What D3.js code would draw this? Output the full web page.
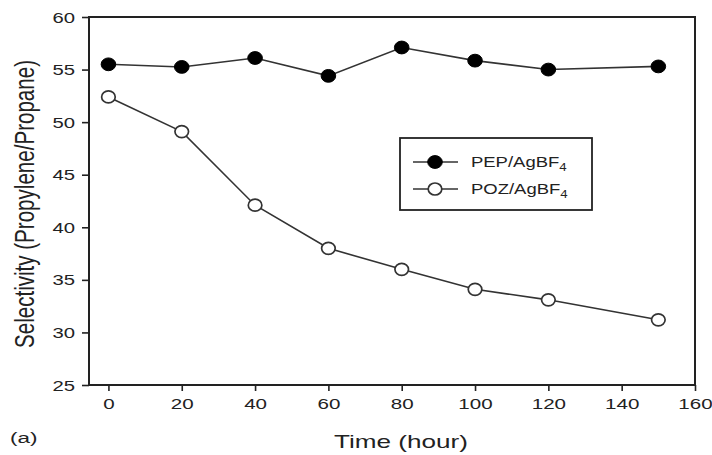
<!DOCTYPE html>
<html>
<head>
<meta charset="utf-8">
<script src="https://cdn.jsdelivr.net/npm/d3@7"></script>
<style>
  html, body { margin: 0; padding: 0; background: #fff; }
  svg { display: block; font-family: "Liberation Sans", Arial, sans-serif; }
</style>
</head>
<body>
<svg id="chart" width="712" height="455"></svg>
<script>
// ---- data ----
const times = [0, 20, 40, 60, 80, 100, 120, 150];
const pepValues = [55.5, 55.25, 56.1, 54.4, 57.1, 55.85, 55.0, 55.3];
const pozValues = [52.4, 49.1, 42.1, 38.0, 36.0, 34.1, 33.1, 31.2];
const xTicks = [0, 20, 40, 60, 80, 100, 120, 140, 160];
const yTicks = [25, 30, 35, 40, 45, 50, 55, 60];
const seriesNames = ["PEP/AgBF", "POZ/AgBF"];

const SX = 1.45; // horizontal stretch of the original figure
const ink = "#222";

const svg = d3.select("#chart");
const x = d3.scaleLinear().domain([-5.3, 160]).range([89, 695]);
const y = d3.scaleLinear().domain([25, 60]).range([385, 17]);

// x axis
const xAxis = svg.append("g")
  .attr("transform", `translate(0,${y(25)})`)
  .call(d3.axisBottom(x).tickValues(xTicks).tickSize(6).tickSizeOuter(0));
xAxis.select(".domain").remove();
xAxis.selectAll("line").attr("stroke", ink).attr("stroke-width", 1.6);
xAxis.selectAll("text")
  .attr("fill", ink).attr("font-size", 14.5)
  .attr("y", 19).attr("dy", "0.36em")
  .attr("transform", `scale(1.42,1)`);

// y axis
const yAxis = svg.append("g")
  .attr("transform", `translate(${x(-5.3)},0)`)
  .call(d3.axisLeft(y).tickValues(yTicks).tickSize(7).tickSizeOuter(0));
yAxis.select(".domain").remove();
yAxis.selectAll("line").attr("stroke", ink).attr("stroke-width", 1.6);
yAxis.selectAll("text")
  .attr("fill", ink).attr("font-size", 14)
  .attr("x", -14 / SX).attr("dy", "0.36em")
  .attr("transform", `scale(${SX},1)`);

// frame
svg.append("rect")
  .attr("x", x(-5.3)).attr("y", y(60))
  .attr("width", x(160) - x(-5.3)).attr("height", y(25) - y(60))
  .attr("fill", "none").attr("stroke", ink).attr("stroke-width", 2);

const line = d3.line().x((d, i) => x(times[i])).y(d => y(d));

function drawSeries(vals, filled) {
  svg.append("path").datum(vals)
    .attr("d", line).attr("fill", "none")
    .attr("stroke", "#333").attr("stroke-width", 1.6);
  svg.append("g").selectAll("ellipse").data(vals).join("ellipse")
    .attr("cx", (d, i) => x(times[i])).attr("cy", d => y(d))
    .attr("rx", filled ? 7.3 : 6.8).attr("ry", filled ? 6.4 : 6)
    .attr("fill", filled ? "#000" : "#fff")
    .attr("stroke", filled ? "#000" : "#333")
    .attr("stroke-width", filled ? 1 : 1.7);
}
drawSeries(pepValues, true);
drawSeries(pozValues, false);

// legend
const lg = svg.append("g");
lg.append("rect").attr("x", 400).attr("y", 138).attr("width", 192).attr("height", 72)
  .attr("fill", "#fff").attr("stroke", ink).attr("stroke-width", 1.8);
seriesNames.forEach((name, i) => {
  const ly = 162 + i * 27;
  lg.append("line").attr("x1", 413).attr("x2", 458).attr("y1", ly).attr("y2", ly)
    .attr("stroke", "#333").attr("stroke-width", 1.6);
  lg.append("ellipse").attr("cx", 435).attr("cy", ly)
    .attr("rx", i === 0 ? 7.3 : 6.8).attr("ry", i === 0 ? 6.4 : 6)
    .attr("fill", i === 0 ? "#000" : "#fff")
    .attr("stroke", i === 0 ? "#000" : "#333")
    .attr("stroke-width", i === 0 ? 1 : 1.7);
  const t = lg.append("text")
    .attr("transform", `translate(471,${ly + 5}) scale(1.32,1)`)
    .attr("font-size", 14).attr("fill", ink);
  t.append("tspan").attr("fill", ink).text(name);
  t.append("tspan").attr("fill", ink).attr("font-size", 10).attr("dy", 4).text("4");
});

// axis titles
svg.append("text")
  .attr("transform", `translate(401,448) scale(${SX},1)`)
  .attr("text-anchor", "middle").attr("font-size", 18).attr("fill", ink)
  .text("Time (hour)");
svg.append("text")
  .attr("transform", `translate(34,204) scale(${SX},1) rotate(-90)`)
  .attr("text-anchor", "middle").attr("font-size", 18.5).attr("fill", ink)
  .attr("textLength", 288).attr("lengthAdjust", "spacingAndGlyphs")
  .text("Selectivity (Propylene/Propane)");
svg.append("text")
  .attr("transform", `translate(10,443) scale(${SX},1)`)
  .attr("font-size", 15.5).attr("fill", ink)
  .text("(a)");
</script>
</body>
</html>
